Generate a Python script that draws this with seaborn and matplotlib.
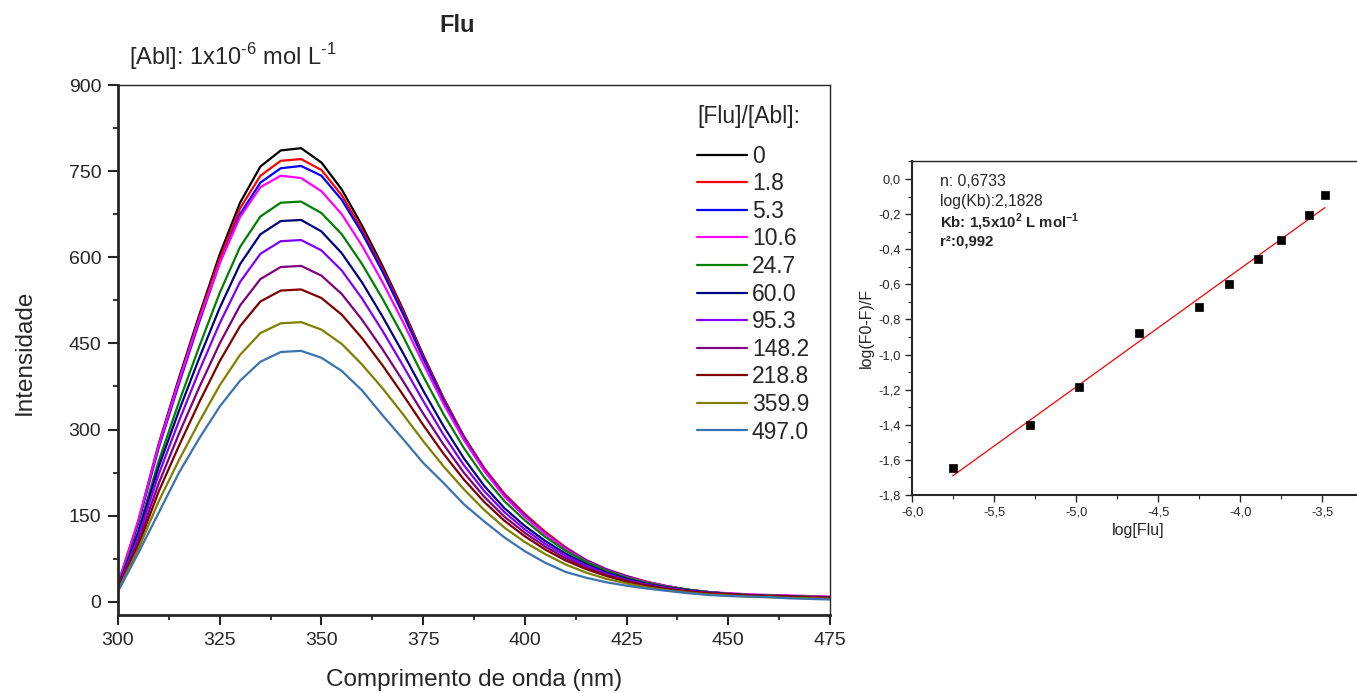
import numpy as np
import pandas as pd
import matplotlib
matplotlib.use("Agg")
import matplotlib.pyplot as plt
import seaborn as sns
from matplotlib.ticker import MultipleLocator, FuncFormatter

# ---------------- data: emission spectra ----------------
wavelength = np.arange(300, 476, 5)
ratios = ["0", "1.8", "5.3", "10.6", "24.7", "60.0", "95.3", "148.2", "218.8", "359.9", "497.0"]

I_0 = [30, 140, 275, 390, 500, 605, 695, 758, 786, 790, 765, 718, 655, 585, 510, 430, 355, 288,
       232, 187, 152, 120, 92, 70, 55, 44, 34, 27, 21, 17, 14, 12, 10, 9, 8, 7]
I_1_8 = [30, 140, 272, 385, 495, 598, 685, 742, 768, 771, 752, 708, 648, 580, 507, 428, 354, 288,
         233, 188, 153, 122, 95, 73, 57, 45, 35, 27, 21, 17, 14, 12, 11, 10, 9, 8]
I_5_3 = [29, 138, 268, 380, 488, 590, 675, 730, 755, 759, 742, 700, 642, 575, 502, 424, 350, 285,
         230, 185, 150, 119, 93, 72, 56, 44, 34, 27, 21, 17, 14, 12, 11, 10, 9, 8]
I_10_6 = [32, 142, 272, 385, 492, 590, 670, 722, 742, 738, 715, 675, 620, 557, 488, 415, 345, 282,
          228, 183, 148, 118, 92, 71, 55, 43, 34, 27, 21, 17, 15, 13, 12, 11, 10, 9]
I_24_7 = [27, 125, 245, 348, 445, 538, 618, 671, 695, 697, 677, 640, 588, 528, 463, 393, 327, 268,
          217, 175, 142, 113, 89, 70, 54, 42, 33, 26, 21, 17, 14, 12, 11, 10, 9, 8]
I_60_0 = [26, 120, 235, 333, 425, 512, 588, 640, 663, 665, 645, 607, 556, 497, 434, 368, 306, 250,
          202, 163, 132, 106, 84, 66, 51, 40, 31, 25, 20, 16, 13, 11, 10, 9, 8, 7]
I_95_3 = [25, 113, 222, 315, 403, 485, 557, 606, 628, 630, 612, 577, 528, 472, 412, 350, 291, 238,
          193, 156, 126, 101, 80, 63, 49, 38, 30, 24, 19, 16, 13, 11, 10, 9, 8, 7]
I_148_2 = [24, 105, 206, 293, 374, 450, 516, 562, 583, 585, 568, 536, 491, 440, 385, 328, 274, 225,
           183, 148, 120, 96, 76, 60, 47, 37, 29, 23, 19, 15, 13, 11, 10, 9, 8, 7]
I_218_8 = [22, 98, 192, 272, 348, 419, 480, 523, 542, 544, 529, 500, 459, 412, 361, 308, 258, 213,
           174, 141, 114, 91, 72, 57, 45, 35, 28, 22, 18, 15, 13, 11, 10, 9, 8, 7]
I_359_9 = [20, 92, 175, 247, 314, 377, 430, 468, 485, 487, 474, 449, 413, 372, 327, 280, 236, 196,
           160, 129, 104, 83, 65, 51, 40, 32, 25, 20, 16, 13, 11, 9, 8, 7, 6, 5]
I_497_0 = [18, 85, 155, 225, 285, 340, 385, 418, 435, 437, 425, 402, 368, 325, 284, 242, 207, 170,
           140, 112, 88, 68, 52, 42, 34, 28, 23, 19, 15, 12, 10, 9, 8, 6, 5, 4]
curves = [I_0, I_1_8, I_5_3, I_10_6, I_24_7, I_60_0, I_95_3, I_148_2, I_218_8, I_359_9, I_497_0]

colors = ["#000000", "#FF0000", "#0000FF", "#FF00FF", "#008000", "#000080",
          "#8000FF", "#800080", "#800000", "#808000", "#3B73B0"]

# ---------------- data: double-log plot ----------------
log_flu = [-5.754, -5.280, -4.984, -4.620, -4.252, -4.067, -3.894, -3.752, -3.583, -3.484]
log_f0f = [-1.648, -1.403, -1.185, -0.877, -0.731, -0.598, -0.456, -0.345, -0.207, -0.091]
n_fit = 0.6733
logkb_fit = 2.1828

# ---------------- style ----------------
sns.set_style("ticks")
plt.rcParams['font.family'] = ['Liberation Sans', 'DejaVu Sans']
plt.rcParams['axes.unicode_minus'] = False
plt.rcParams['mathtext.fontset'] = 'custom'
plt.rcParams['mathtext.rm'] = 'Liberation Sans'
plt.rcParams['mathtext.bf'] = 'Liberation Sans:bold'

W, H = 1357, 693
fig = plt.figure(figsize=(W / 100, H / 100), dpi=100)

# ---------------- main spectra axes ----------------
ax = fig.add_axes([118 / W, 1 - 615 / H, (830 - 118) / W, (615 - 85) / H])
df = pd.concat([pd.DataFrame({"wl": wavelength, "I": vals, "ratio": r})
                for r, vals in zip(ratios, curves)], ignore_index=True)
sns.lineplot(data=df, x="wl", y="I", hue="ratio", hue_order=ratios, palette=colors,
             linewidth=1.6, ax=ax, legend=True)

ax.set_xlim(300, 475)
ax.set_ylim(-23, 900)
ax.xaxis.set_major_locator(MultipleLocator(25))
ax.xaxis.set_minor_locator(MultipleLocator(12.5))
ax.yaxis.set_major_locator(MultipleLocator(150))
ax.yaxis.set_minor_locator(MultipleLocator(75))
ax.tick_params(which='major', length=7, width=1.5, labelsize=14, direction='out', pad=5)
ax.tick_params(which='minor', length=3.5, width=1.3, direction='out')
for s in ax.spines.values():
    s.set_linewidth(1.0)
ax.spines['left'].set_linewidth(2.0)
ax.spines['bottom'].set_linewidth(2.0)
ax.set_xlabel("")
ax.set_ylabel("")

handles, labels = ax.get_legend_handles_labels()
leg = ax.legend(handles, labels, title="[Flu]/[Abl]:", frameon=False, fontsize=16.5,
                title_fontsize=16.5, loc="upper left", alignment="left",
                bbox_to_anchor=(697 / W, 1 - 105 / H), bbox_transform=fig.transFigure,
                handlelength=2.2, handletextpad=0.2, labelspacing=0.2, borderpad=0,
                borderaxespad=0)
leg._legend_box.sep = 12
for line in leg.get_lines():
    line.set_linewidth(1.6)

fig.text(474 / W, 1 - 680 / H, "Comprimento de onda (nm)", ha='center', va='center', fontsize=17.5)
fig.text(25 / W, 1 - 352 / H, "Intensidade", ha='center', va='center', fontsize=17.5, rotation=90)
fig.text(457 / W, 1 - 25 / H, "Flu", ha='center', va='center', fontsize=17, fontweight='bold')
fig.text(129 / W, 1 - 57 / H, r"[Abl]: 1x10$^{\text{-6}}$ mol L$^{\text{-1}}$", ha='left',
         va='center', fontsize=17)

# ---------------- inset double-log axes ----------------
ax2 = fig.add_axes([912.3 / W, 1 - 495 / H, (1363.3 - 912.3) / W, (495 - 161) / H])
sns.scatterplot(x=log_flu, y=log_f0f, marker='s', s=32, color='black', edgecolor='black',
                linewidth=0.5, ax=ax2, zorder=3)
xfit = np.array([min(log_flu), max(log_flu)])
ax2.plot(xfit, n_fit * xfit + logkb_fit, color='#FF0000', linewidth=0.9, zorder=2)
ax2.set_xlim(-6.0, -3.25)
ax2.set_ylim(-1.8, 0.1025)
ax2.xaxis.set_major_locator(MultipleLocator(0.5))
ax2.xaxis.set_minor_locator(MultipleLocator(0.25))
ax2.yaxis.set_major_locator(MultipleLocator(0.2))
ax2.yaxis.set_minor_locator(MultipleLocator(0.1))
comma = FuncFormatter(lambda v, p: f"{round(v, 1) + 0.0:.1f}".replace('.', ','))
ax2.xaxis.set_major_formatter(comma)
ax2.yaxis.set_major_formatter(comma)
ax2.tick_params(which='major', length=5, width=1.0, labelsize=9.3, direction='out')
ax2.tick_params(which='minor', length=3, width=0.8, direction='out')
for s in ax2.spines.values():
    s.set_linewidth(1.0)
ax2.spines['left'].set_linewidth(1.5)
ax2.spines['bottom'].set_linewidth(1.5)
ax2.set_xlabel("log[Flu]", fontsize=11.5, labelpad=3)
ax2.set_ylabel("log(F0-F)/F", fontsize=11.5, labelpad=3)

tx = 940 / W
fig.text(tx, 1 - 182 / H, "n: 0,6733", ha='left', va='center', fontsize=11.3)
fig.text(tx, 1 - 201 / H, "log(Kb):2,1828", ha='left', va='center', fontsize=11.3)
fig.text(tx, 1 - 222 / H, r"Kb: 1,5x10$^{\mathbf{2}}$ L mol$^{\mathbf{-1}}$", ha='left', va='center',
         fontsize=10.8, fontweight='bold')
fig.text(tx, 1 - 242 / H, "r²:0,992", ha='left', va='center', fontsize=10.8, fontweight='bold')

fig.savefig("out.png", dpi=100)
